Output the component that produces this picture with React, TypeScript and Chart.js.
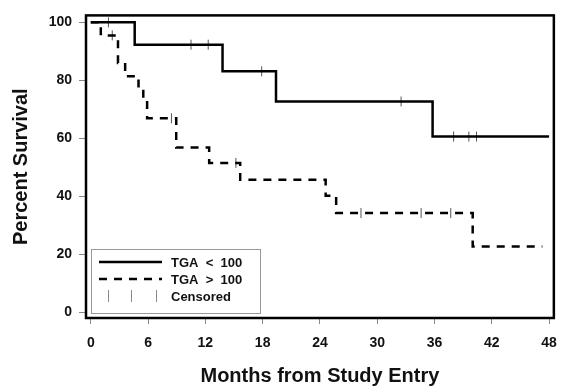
import React, { useEffect, useRef } from "react";
import { Chart, registerables } from "chart.js";

Chart.register(...registerables);

// ---- data ----
const xTicks = [0, 6, 12, 18, 24, 30, 36, 42, 48];
const yTicks = [0, 20, 40, 60, 80, 100];

const xTitle = "Months from Study Entry";
const yTitle = "Percent Survival";

const legendLabels = ["TGA  <  100", "TGA  >  100", "Censored"];

// TGA < 100 (solid)
const lowMonths = [0, 4.6, 13.8, 19.4, 35.8, 48];
const lowSurvival = [100, 92.3, 83.1, 72.7, 60.6, 60.6];
const lowCensorMonths = [1.85, 10.5, 12.3, 17.9, 32.5, 38.0, 39.6, 40.4];
const lowCensorSurvival = [100, 92.3, 92.3, 83.1, 72.7, 60.6, 60.6, 60.6];

// TGA > 100 (dashed)
const highMonths = [0, 1.05, 2.85, 3.6, 5.0, 5.5, 5.9, 8.95, 12.4, 15.65, 24.6, 25.7, 40.0, 47.3];
const highSurvival = [100, 95.5, 86.0, 81.4, 76.3, 72.9, 66.9, 56.8, 51.5, 45.7, 40.2, 34.2, 22.7, 22.7];
const highCensorMonths = [2.25, 8.45, 15.2, 28.3, 34.6, 37.7];
const highCensorSurvival = [95.5, 66.9, 51.5, 34.2, 34.2, 34.2];

const FONT = "'Liberation Sans', Arial, Helvetica, sans-serif";
const DASH = [8, 7];

const toPts = (xs: number[], ys: number[]) => xs.map((x, i) => ({ x, y: ys[i] }));

const framePlugin = {
  id: "frame",
  afterDatasetsDraw(chart: any) {
    const { ctx, chartArea: a } = chart;
    ctx.save();
    ctx.strokeStyle = "#000";
    ctx.lineWidth = 2.5;
    ctx.strokeRect(a.left, a.top, a.right - a.left, a.bottom - a.top);
    ctx.restore();
  },
};

const legendPlugin = {
  id: "kmLegend",
  afterDraw(chart: any) {
    const { ctx, chartArea: a } = chart;
    const bx = a.left + 5;
    const by = a.bottom - 69;
    const bw = 169;
    const bh = 64;
    ctx.save();
    ctx.strokeStyle = "#999";
    ctx.lineWidth = 1;
    ctx.strokeRect(bx + 0.5, by + 0.5, bw, bh);
    const rows = [by + 13, by + 30, by + 47];
    const lx0 = bx + 8;
    const lx1 = bx + 71;
    ctx.strokeStyle = "#000";
    ctx.lineWidth = 2.5;
    ctx.beginPath();
    ctx.moveTo(lx0, rows[0]);
    ctx.lineTo(lx1, rows[0]);
    ctx.stroke();
    ctx.setLineDash(DASH);
    ctx.beginPath();
    ctx.moveTo(lx0, rows[1]);
    ctx.lineTo(lx1, rows[1]);
    ctx.stroke();
    ctx.setLineDash([]);
    ctx.strokeStyle = "#888";
    ctx.lineWidth = 1;
    [bx + 17, bx + 40, bx + 65].forEach((cx) => {
      ctx.beginPath();
      ctx.moveTo(cx + 0.5, rows[2] - 6);
      ctx.lineTo(cx + 0.5, rows[2] + 6);
      ctx.stroke();
    });
    ctx.fillStyle = "#111";
    ctx.font = `bold 13px ${FONT}`;
    ctx.textBaseline = "middle";
    ctx.textAlign = "left";
    legendLabels.forEach((t, i) => ctx.fillText(t, bx + 80, rows[i] + 1));
    ctx.restore();
  },
};

export default function App() {
  const ref = useRef<HTMLCanvasElement | null>(null);

  useEffect(() => {
    if (!ref.current) return;
    const censorStyle = {
      showLine: false,
      pointStyle: "line",
      rotation: 90,
      pointRadius: 5,
      borderColor: "#555",
      borderWidth: 1,
    };
    const chart = new Chart(ref.current, {
      type: "line",
      data: {
        datasets: [
          {
            label: legendLabels[0],
            data: toPts(lowMonths, lowSurvival),
            stepped: "before",
            borderColor: "#000",
            borderWidth: 2.5,
            pointRadius: 0,
            fill: false,
          },
          {
            label: legendLabels[1],
            data: toPts(highMonths, highSurvival),
            stepped: "before",
            borderColor: "#000",
            borderWidth: 2.5,
            borderDash: DASH,
            pointRadius: 0,
            fill: false,
          },
          { label: legendLabels[2], data: toPts(lowCensorMonths, lowCensorSurvival), ...censorStyle },
          { label: legendLabels[2], data: toPts(highCensorMonths, highCensorSurvival), ...censorStyle },
        ],
      },
      options: {
        animation: false,
        responsive: false,
        maintainAspectRatio: false,
        layout: { padding: { left: 0, top: 14, right: 13, bottom: 0 } },
        plugins: {
          legend: { display: false },
          tooltip: { enabled: false },
        },
        scales: {
          x: {
            type: "linear",
            min: -0.5,
            max: 48.5,
            afterBuildTicks: (s: any) => {
              s.ticks = xTicks.map((v) => ({ value: v }));
            },
            afterFit: (s: any) => {
              s.height = 70;
            },
            grid: {
              drawOnChartArea: false,
              drawTicks: true,
              tickLength: 6,
              tickColor: "#888",
              color: "#888",
            },
            border: { display: false },
            ticks: {
              color: "#111",
              font: { family: FONT, size: 14, weight: "bold" },
              padding: 11,
              maxRotation: 0,
              autoSkip: false,
            },
            title: {
              display: true,
              text: xTitle,
              color: "#111",
              font: { family: FONT, size: 20, weight: "bold" },
              padding: { top: 0, bottom: 0 },
            },
          },
          y: {
            type: "linear",
            min: -2,
            max: 102.4,
            afterBuildTicks: (s: any) => {
              s.ticks = yTicks.map((v) => ({ value: v }));
            },
            afterFit: (s: any) => {
              s.width = 86;
            },
            grid: {
              drawOnChartArea: false,
              drawTicks: true,
              tickLength: 7,
              tickColor: "#888",
              color: "#888",
            },
            border: { display: false },
            ticks: {
              color: "#111",
              font: { family: FONT, size: 14, weight: "bold" },
              padding: 7,
              autoSkip: false,
            },
            title: {
              display: true,
              text: yTitle,
              color: "#111",
              font: { family: FONT, size: 20, weight: "bold" },
              padding: { top: 9, bottom: 0 },
            },
          },
        },
      },
      plugins: [framePlugin, legendPlugin],
    } as any);
    return () => chart.destroy();
  }, []);

  return (
    <div style={{ position: "absolute", left: 0, top: 0, width: 568, height: 388, background: "#fff" }}>
      <canvas ref={ref} width={568} height={388} style={{ display: "block" }} />
    </div>
  );
}
